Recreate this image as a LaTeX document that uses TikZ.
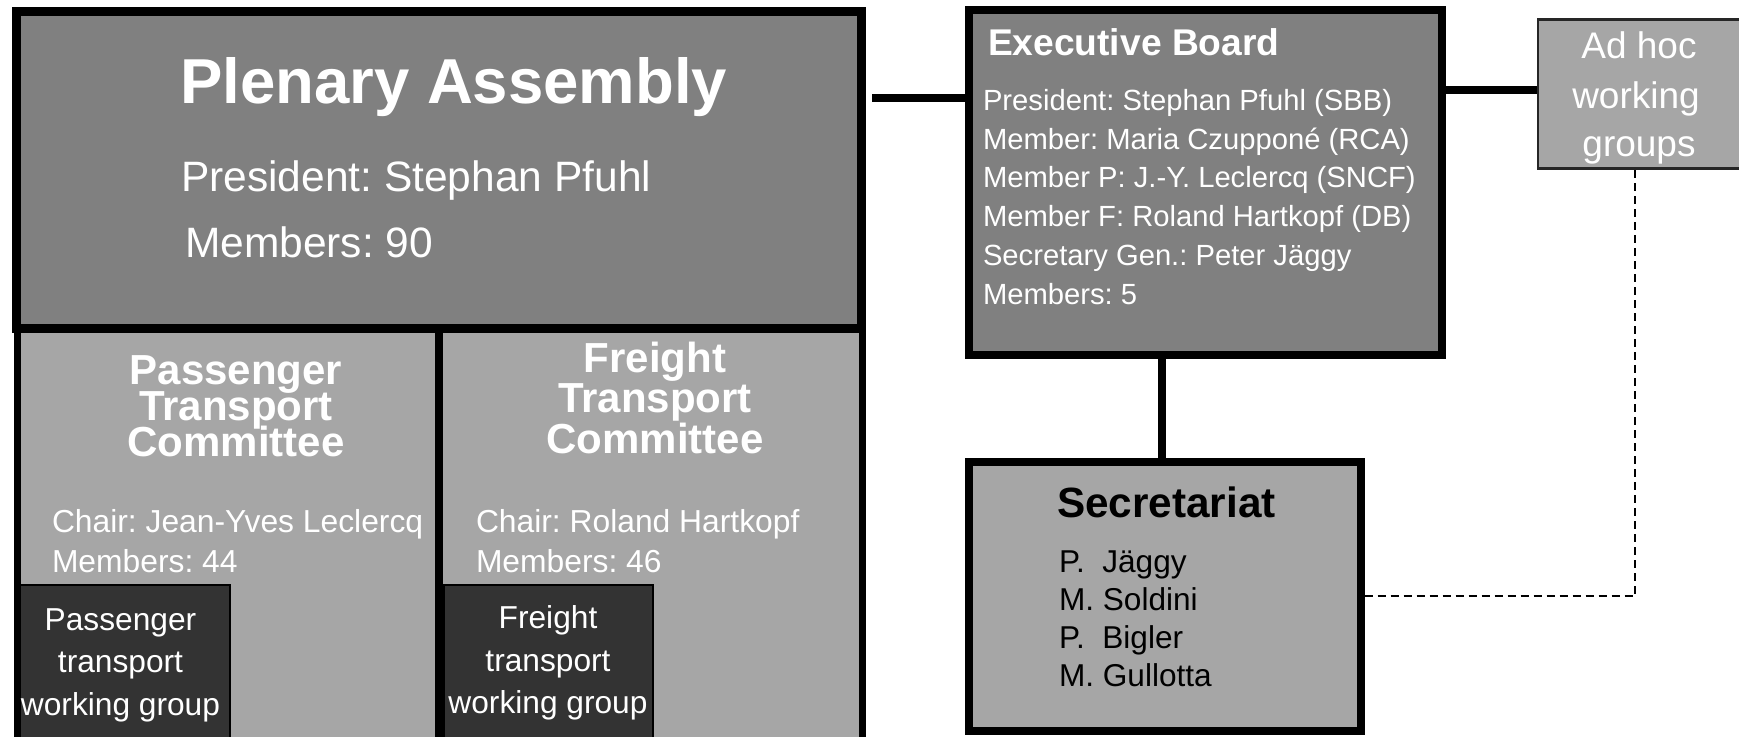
\documentclass[tikz,border=0pt]{standalone}
\usepackage{fontspec}
\setmainfont{Liberation Sans}
\usetikzlibrary{calc}

\definecolor{midgray}{HTML}{808080}
\definecolor{panelgray}{HTML}{A6A6A6}
\definecolor{darkpanel}{HTML}{333333}

\newcommand{\setfs}[1]{\fontsize{#1}{#1}\selectfont}
\frenchspacing

\tikzset{
  panel/.style={rectangle, draw=black, inner sep=0pt, anchor=center},
  wgpanel/.style={panel, fill=darkpanel, line width=2pt},
  wtext/.style={inner sep=0pt, outer sep=0pt, text=white},
  btext/.style={inner sep=0pt, outer sep=0pt, text=black},
  connector/.style={draw=black, line width=8pt},
  dashconn/.style={draw=black, line width=1.8pt, dash pattern=on 8pt off 5pt},
}

\begin{document}
\begin{tikzpicture}[x=1pt,y=-1pt]
\useasboundingbox (0,0) rectangle (1739,736);
\clip (0,0) rectangle (1739,736);

% committees and plenary
\node[panel, fill=panelgray, line width=7.5pt, minimum width=421.5pt, minimum height=412pt] (pcom) at (228.25,535) {};
\node[panel, fill=panelgray, line width=7.5pt, minimum width=423.5pt, minimum height=412pt] (fcom) at (650.75,535) {};
\node[panel, fill=midgray, line width=9pt, minimum width=845pt, minimum height=317pt] (plen) at (439,170) {};
\node[wgpanel, minimum width=210pt, minimum height=160pt] (pwg) at (125,665) {};
\node[wgpanel, minimum width=209pt, minimum height=160pt] (fwg) at (548.5,665) {};

% right-hand bodies
\node[panel, fill=midgray, line width=8pt, minimum width=473pt, minimum height=345pt] (exec) at (1205.5,182.5) {};
\node[panel, fill=panelgray, line width=8pt, minimum width=391.5pt, minimum height=269.3pt] (sec) at (1164.75,596.35) {};
\node[panel, fill=panelgray, draw=black!85, line width=2.5pt, minimum width=204pt, minimum height=149.25pt] (adhoc) at (1640,94.1) {};

% plenary assembly texts
\node[wtext, anchor=base west, font={\setfs{63.5}\bfseries}] (plenT) at (180,103) {Plenary Assembly};
\node[wtext, anchor=base west, font={\setfs{42.5}}] (plenP) at (181,191) {President: Stephan Pfuhl};
\node[wtext, anchor=base west, font={\setfs{42.5}}] (plenM) at (185,257) {Members: 90};

% passenger committee texts
\node[wtext, anchor=base, font={\setfs{42}\bfseries}] (pcomA) at (236,384) {Passenger};
\node[wtext, anchor=base, font={\setfs{42}\bfseries}] (pcomB) at (236,420) {Transport};
\node[wtext, anchor=base, font={\setfs{42}\bfseries}] (pcomC) at (236,456) {Committee};
\node[wtext, anchor=base west, font={\setfs{31.8}}] (pcomCh) at (52,532) {Chair: Jean-Yves Leclercq};
\node[wtext, anchor=base west, font={\setfs{31.8}}] (pcomM) at (52,572) {Members: 44};

% freight committee texts
\node[wtext, anchor=base, font={\setfs{42}\bfseries}] (fcomA) at (655,372) {Freight};
\node[wtext, anchor=base, font={\setfs{42}\bfseries}] (fcomB) at (655,412) {Transport};
\node[wtext, anchor=base, font={\setfs{42}\bfseries}] (fcomC) at (655,453) {Committee};
\node[wtext, anchor=base west, font={\setfs{31.8}}] (fcomCh) at (476,532) {Chair: Roland Hartkopf};
\node[wtext, anchor=base west, font={\setfs{31.8}}] (fcomM) at (476,572) {Members: 46};

% working groups
\node[wtext, anchor=base, font={\setfs{31.7}}] (pwgA) at (120.5,630) {Passenger};
\node[wtext, anchor=base, font={\setfs{31.7}}] (pwgB) at (120.5,672) {transport};
\node[wtext, anchor=base, font={\setfs{31.7}}] (pwgC) at (120.5,715.5) {working group};
\node[wtext, anchor=base, font={\setfs{31.7}}] (fwgA) at (548,628) {Freight};
\node[wtext, anchor=base, font={\setfs{31.7}}] (fwgB) at (548,671) {transport};
\node[wtext, anchor=base, font={\setfs{31.7}}] (fwgC) at (548,713.5) {working group};

% executive board texts
\node[wtext, anchor=base west, font={\setfs{37.2}\bfseries}] (execT) at (988,55) {Executive Board};
\foreach \txt [count=\i from 0] in {President: Stephan Pfuhl (SBB),
    Member: Maria Czupponé (RCA),
    Member P: J.-Y. Leclercq (SNCF),
    Member F: Roland Hartkopf (DB),
    Secretary Gen.: Peter Jäggy,
    Members: 5}
  \node[wtext, anchor=base west, font={\setfs{29.2}}] (execL\i) at (983,110.5+38.7*\i) {\txt};

% ad hoc working groups texts
\node[wtext, anchor=base, font={\setfs{37}}] (adA) at (1639,58) {Ad hoc};
\node[wtext, anchor=base, font={\setfs{37}}] (adB) at (1636,108) {working};
\node[wtext, anchor=base, font={\setfs{37}}] (adC) at (1639,156) {groups};

% secretariat texts
\node[btext, anchor=base west, font={\setfs{42.3}\bfseries}] (secT) at (1057,517) {Secretariat};
\foreach \txt [count=\i from 0] in {P.\ \ Jäggy, M. Soldini, P.\ \ Bigler, M. Gullotta}
  \node[btext, anchor=base west, font={\setfs{31.6}}] (secL\i) at (1059,572+38.1*\i) {\txt};

% connectors
\coordinate (pe) at ([yshift=72.5pt]plen.east);
\draw[connector, shorten <=6pt] (pe) -- (pe -| exec.west);
\coordinate (ea) at ([yshift=92.5pt]exec.east);
\draw[connector] (ea) -- (ea -| adhoc.west);
\coordinate (es) at ([xshift=-44pt]exec.south);
\draw[connector] (es) -- (es |- sec.north);
\coordinate (ad) at ([xshift=-5pt]adhoc.south);
\draw[dashconn] (sec.east) -| (ad);
\end{tikzpicture}
\end{document}
